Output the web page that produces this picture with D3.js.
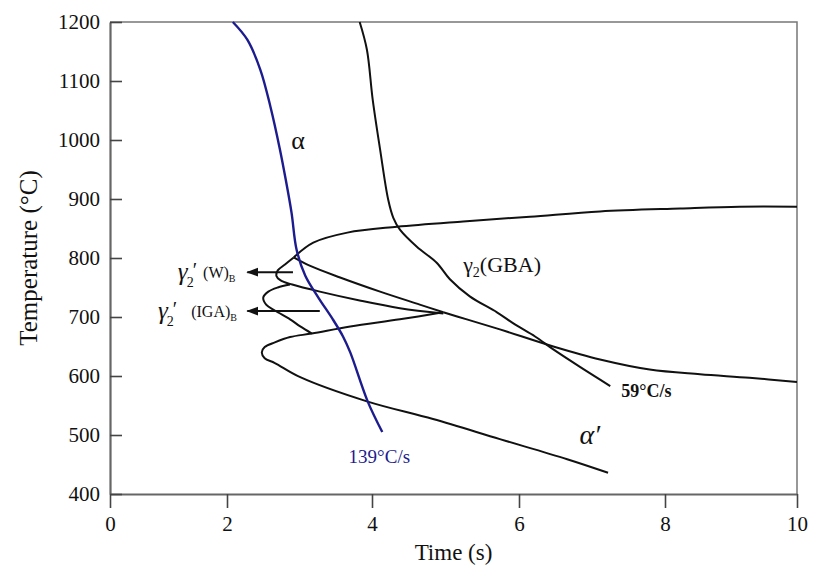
<!DOCTYPE html>
<html>
<head>
<meta charset="utf-8">
<script src="https://cdn.jsdelivr.net/npm/d3@7"></script>
<style>
  body { margin: 0; background: #fff; }
  text { font-family: "Liberation Serif", "DejaVu Serif", serif; fill: #111; }
</style>
</head>
<body>
<svg id="chart" width="813" height="575"></svg>
<script>
// Axis ticks
const xTicks = [0, 2, 4, 6, 8, 10];
const yTicks = [400, 500, 600, 700, 800, 900, 1000, 1100, 1200];

// 139 C/s cooling curve (blue)
const blueTime = [2.08, 2.28, 2.46, 2.60, 2.73, 2.81, 2.89, 2.96, 3.08, 3.26, 3.46, 3.60, 3.70, 3.94, 4.14];
const blueTemp = [1200, 1170, 1119, 1056, 984, 933, 877, 814, 770, 733, 696, 667, 640, 557, 505];

// 59 C/s cooling curve
const slowTime = [3.83, 3.93, 4.01, 4.11, 4.22, 4.29, 4.38, 4.61, 4.88, 5.06, 5.33, 5.70, 5.95, 6.22, 6.47, 6.84, 7.25];
const slowTemp = [1200, 1153, 1068, 984, 899, 868, 848, 819, 792, 764, 735, 708, 687, 667, 645, 615, 583];

// upper transformation start line (to 10 s)
const startTime = [2.92, 3.19, 3.66, 4.34, 5.24, 6.15, 7.11, 8.23, 9.13, 10];
const startTemp = [801, 826, 843, 853, 862, 870, 879, 884, 887, 887];

// gamma2'(W)B nose
const wTime = [2.92, 2.80, 2.70, 2.68, 2.74, 2.90, 3.28, 3.83, 4.38, 4.97];
const wTemp = [801, 789, 779, 770, 762, 755, 743, 728, 715, 706];

// branch from the junction down to the tip
const branchTime = [2.92, 3.14, 3.56, 4.11, 4.65, 4.97];
const branchTemp = [801, 787, 767, 743, 721, 708];

// line from the tip to 10 s
const tailTime = [4.97, 5.29, 5.74, 6.47, 7.11, 7.79, 8.53, 9.28, 10];
const tailTemp = [708, 696, 679, 650, 628, 611, 603, 597, 590];

// gamma2'(IGA)B nose
const igaTime = [2.87, 2.70, 2.57, 2.50, 2.54, 2.66, 2.87, 3.01, 3.17];
const igaTemp = [755, 750, 743, 733, 721, 711, 696, 684, 672];

// alpha' nose
const amTime = [4.97, 4.38, 3.70, 3.17, 2.87, 2.66, 2.52, 2.48, 2.52, 2.66, 3.01, 3.93, 4.83, 5.74, 6.66, 7.22];
const amTemp = [708, 696, 684, 672, 666, 657, 649, 640, 630, 622, 598, 557, 527, 493, 459, 436];

const svg = d3.select("#chart");

// the scanned time axis is not evenly spaced, so the scale follows the printed ticks
const x = d3.scaleLinear().domain(xTicks).range([110, 227, 372, 519, 665, 797]);
const y = d3.scaleLinear().domain([400, 1200]).range([494, 22]);

const pts = (ts, vs) => ts.map((t, i) => [t, vs[i]]);
const line = d3.line()
  .x(d => x(d[0]))
  .y(d => y(d[1]))
  .curve(d3.curveCatmullRom.alpha(0.5));

// frame (top / right)
svg.append("path")
  .attr("d", `M${x(0)},${y(1200)}H${x(10)}V${y(400)}`)
  .attr("fill", "none")
  .attr("stroke", "#777")
  .attr("stroke-width", 1.5);

// Axes
const xAxis = svg.append("g")
  .attr("transform", `translate(0,${y(400)})`)
  .call(d3.axisBottom(x).tickValues(xTicks).tickFormat(d3.format("d"))
    .tickSize(14).tickSizeOuter(0).tickPadding(8));
const yAxis = svg.append("g")
  .attr("transform", `translate(${x(0)},0)`)
  .call(d3.axisLeft(y).tickValues(yTicks).tickFormat(d3.format("d"))
    .tickSize(-12).tickSizeOuter(0).tickPadding(10));

[xAxis, yAxis].forEach(g => {
  g.attr("font-family", null).attr("font-size", null);
  g.select(".domain").attr("stroke", "#666").attr("stroke-width", 2.2);
  g.selectAll(".tick line").attr("stroke", "#444").attr("stroke-width", 1.6);
  g.selectAll(".tick text")
    .style("font-size", "21px")
    .attr("fill", "#222");
});

// Curves
const curves = [
  {d: pts(startTime, startTemp), col: "#111", w: 2},
  {d: pts(wTime, wTemp), col: "#111", w: 2},
  {d: pts(branchTime, branchTemp), col: "#111", w: 2},
  {d: pts(tailTime, tailTemp), col: "#111", w: 2},
  {d: pts(igaTime, igaTemp), col: "#111", w: 2},
  {d: pts(amTime, amTemp), col: "#111", w: 2},
  {d: pts(slowTime, slowTemp), col: "#111", w: 2},
  {d: pts(blueTime, blueTemp), col: "#1c1c8f", w: 2.4}
];
svg.append("g").selectAll("path")
  .data(curves)
  .join("path")
  .attr("d", c => line(c.d))
  .attr("fill", "none")
  .attr("stroke", c => c.col)
  .attr("stroke-width", c => c.w)
  .attr("stroke-linejoin", "round");

// Arrows
svg.append("defs").append("marker")
  .attr("id", "head")
  .attr("markerUnits", "userSpaceOnUse")
  .attr("viewBox", "0 -5 12 10")
  .attr("refX", 11)
  .attr("refY", 0)
  .attr("markerWidth", 12)
  .attr("markerHeight", 10)
  .attr("orient", "auto")
  .append("path")
  .attr("d", "M0,-4.5L12,0L0,4.5Z")
  .attr("fill", "#111");

const arrows = [
  {from: [2.91, 776], to: [2.28, 776]},
  {from: [3.28, 710], to: [2.28, 710]}
];
svg.append("g").selectAll("line")
  .data(arrows)
  .join("line")
  .attr("x1", a => x(a.from[0])).attr("y1", a => y(a.from[1]))
  .attr("x2", a => x(a.to[0])).attr("y2", a => y(a.to[1]))
  .attr("stroke", "#111")
  .attr("stroke-width", 2)
  .attr("marker-end", "url(#head)");

// Axis titles
svg.append("text")
  .attr("transform", `translate(28,${(y(400) + y(1200)) / 2}) rotate(-90)`)
  .attr("text-anchor", "middle")
  .attr("dominant-baseline", "central")
  .style("font-size", "25px")
  .text("Temperature (°C)");

svg.append("text")
  .attr("x", (x(0) + x(10)) / 2)
  .attr("y", 560)
  .attr("text-anchor", "middle")
  .style("font-size", "23px")
  .text("Time (s)");

// Annotations
svg.append("text")
  .attr("x", x(2.98)).attr("y", y(1000))
  .attr("text-anchor", "middle").attr("dominant-baseline", "central")
  .style("font-size", "26px")
  .text("α");

const gba = svg.append("text")
  .attr("x", x(5.24)).attr("y", y(789) + 8)
  .style("font-size", "22px");
gba.append("tspan").text("γ");
gba.append("tspan").attr("dy", 5).style("font-size", "14px").text("2");
gba.append("tspan").attr("dy", -5).text("(GBA)");

svg.append("text")
  .attr("x", x(7.40)).attr("y", y(574) + 6)
  .style("font-size", "18px")
  .style("font-weight", "bold")
  .text("59°C/s");

svg.append("text")
  .attr("x", x(4.10)).attr("y", y(464) + 7)
  .attr("text-anchor", "middle")
  .style("font-size", "19px")
  .style("fill", "#1c1c8f")
  .text("139°C/s");

svg.append("text")
  .attr("x", x(6.97)).attr("y", y(498) + 8)
  .attr("text-anchor", "middle")
  .style("font-size", "28px")
  .style("font-style", "italic")
  .text("α′");

// gamma2' phase labels left of the arrows
function gammaLabel(at, name, gap) {
  const t = svg.append("text")
    .attr("x", x(at[0]))
    .attr("y", y(at[1]) + 8);
  t.append("tspan").style("font-size", "25px").style("font-style", "italic").text("γ");
  t.append("tspan").attr("dx", -1).attr("dy", 7).style("font-size", "14px").text("2");
  t.append("tspan").attr("dx", -1).attr("dy", -10).style("font-size", "20px").text("′");
  t.append("tspan").attr("dx", gap).attr("dy", 1).style("font-size", "16px").text("(" + name + ")");
  t.append("tspan").attr("dy", 4).style("font-size", "10px").text("B");
}
gammaLabel([1.16, 776], "W", 6);
gammaLabel([0.82, 710], "IGA", 14);
</script>
</body>
</html>
